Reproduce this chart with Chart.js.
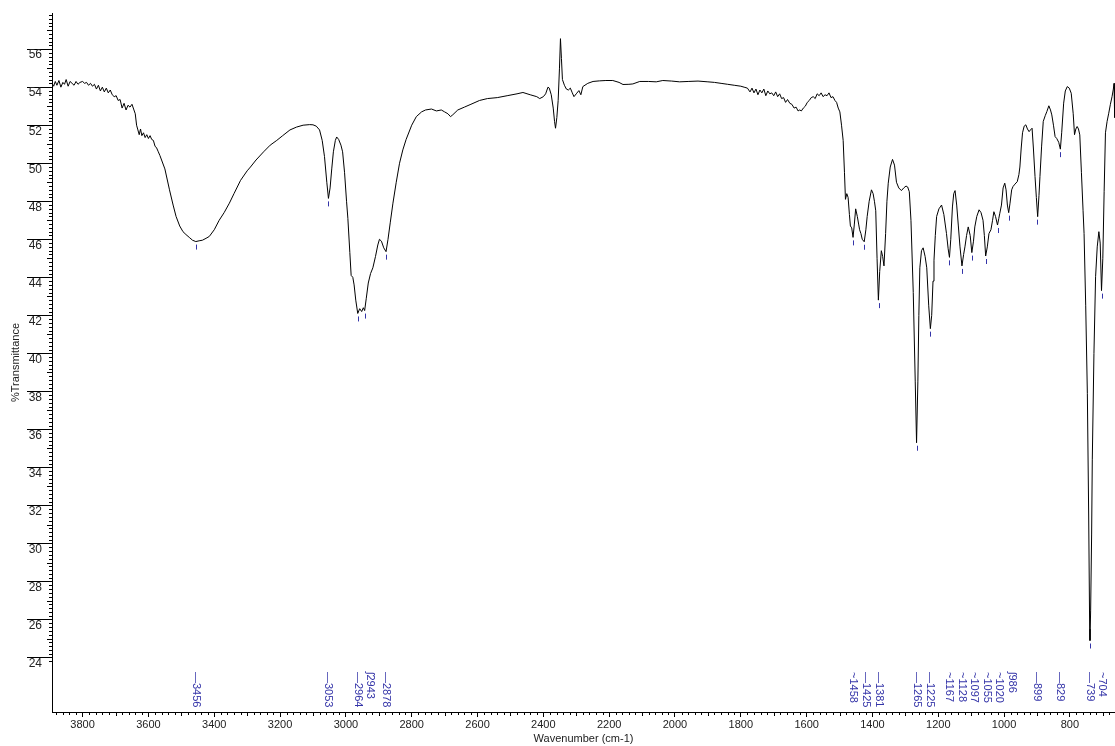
<!DOCTYPE html>
<html>
<head>
<meta charset="utf-8">
<script src="https://cdn.jsdelivr.net/npm/chart.js@4.4.1/dist/chart.umd.min.js"></script>
<style>
  html, body { margin: 0; padding: 0; background: #fff; }
  #c { display: block; }
</style>
</head>
<body>
<canvas id="c" width="1115" height="746"></canvas>
<script>
// ---- Spectrum data ----
const wavenumbers = [
  3893, 3888, 3883, 3878, 3872, 3866, 3860, 3855, 3850, 3844,
  3838, 3832, 3826, 3820, 3814, 3808, 3800, 3794, 3788, 3782,
  3776, 3770, 3764, 3758, 3752, 3746, 3740, 3734, 3728, 3722,
  3716, 3710, 3704, 3698, 3692, 3686, 3680, 3674, 3668, 3662,
  3656, 3650, 3645, 3640, 3636, 3632, 3628, 3624, 3620, 3615,
  3610, 3605, 3600, 3595, 3590, 3585, 3580, 3575, 3570, 3565,
  3550, 3536, 3525, 3516, 3505, 3495, 3486, 3476, 3466, 3456,
  3446, 3436, 3425, 3415, 3400, 3385, 3370, 3354, 3340, 3320,
  3300, 3290, 3273, 3250, 3230, 3210, 3192, 3170, 3150, 3130,
  3110, 3100, 3090, 3080, 3072, 3065, 3058, 3053, 3048, 3043,
  3038, 3032, 3028, 3022, 3015, 3010, 3004, 2998, 2994, 2988,
  2984, 2979, 2975, 2970, 2964, 2958, 2952, 2947, 2943, 2938,
  2932, 2925, 2918, 2910, 2903, 2898, 2892, 2885, 2878, 2872,
  2865, 2857, 2847, 2837, 2827, 2817, 2800, 2786, 2770, 2758,
  2740, 2725, 2710, 2700, 2690, 2682, 2675, 2660, 2640, 2620,
  2594, 2570, 2540, 2510, 2480, 2462, 2440, 2420, 2411, 2400,
  2393, 2386, 2382, 2376, 2370, 2366, 2363, 2359, 2355, 2351,
  2348, 2345, 2342, 2336, 2330, 2324, 2318, 2312, 2307, 2300,
  2292, 2286, 2280, 2265, 2249, 2230, 2210, 2189, 2170, 2158,
  2140, 2128, 2107, 2080, 2057, 2037, 2010, 1986, 1960, 1930,
  1900, 1880, 1860, 1840, 1820, 1800, 1790, 1780, 1772, 1766,
  1760, 1754, 1748, 1742, 1736, 1730, 1724, 1718, 1712, 1706,
  1700, 1694, 1688, 1682, 1676, 1670, 1664, 1658, 1651, 1645,
  1638, 1632, 1626, 1621, 1616, 1610, 1604, 1598, 1592, 1586,
  1580, 1574, 1568, 1562, 1556, 1550, 1544, 1538, 1532, 1526,
  1520, 1514, 1509, 1504, 1499, 1494, 1489, 1485, 1482, 1478,
  1474, 1470, 1467, 1463, 1459, 1455, 1451, 1446, 1442, 1439,
  1435, 1431, 1425, 1420, 1416, 1410, 1403, 1398, 1394, 1390,
  1386, 1382, 1378, 1373, 1369, 1365, 1360, 1356, 1352, 1346,
  1339, 1333, 1327, 1320, 1312, 1305, 1298, 1293, 1288, 1283,
  1276, 1270, 1266, 1262, 1259, 1256, 1251, 1246, 1240, 1235,
  1229, 1224, 1220, 1216, 1213, 1209, 1205, 1198, 1190, 1183,
  1175, 1170, 1166, 1162, 1157, 1153, 1149, 1144, 1139, 1134,
  1128, 1123, 1119, 1114, 1109, 1103, 1098, 1093, 1089, 1083,
  1076, 1070, 1064, 1060, 1056, 1051, 1046, 1040, 1035, 1031,
  1026, 1020, 1016, 1013, 1008, 1003, 998, 994, 990, 986,
  982, 977, 973, 967, 960, 955, 952, 948, 944, 939,
  934, 929, 924, 920, 915, 911, 906, 902, 898, 894,
  891, 886, 881, 875, 870, 864, 859, 855, 850, 845,
  840, 834, 829, 825, 819, 814, 808, 802, 796, 790,
  786, 782, 778, 774, 770, 765, 760, 757, 752, 747,
  743, 740, 739, 737, 734, 732, 727, 722, 717, 712,
  708, 704, 700, 696, 692, 687, 682, 677, 672, 668,
  666, 664
];
const transmittance = [
  54.20, 54.05, 54.30, 54.10, 54.35, 54.00, 54.25, 54.15, 54.40, 54.05,
  54.30, 54.20, 54.10, 54.30, 54.15, 54.25, 54.30, 54.20, 54.25, 54.10,
  54.20, 54.05, 54.15, 53.90, 54.10, 53.80, 54.00, 53.75, 53.95, 53.70,
  53.85, 53.60, 53.50, 53.55, 53.30, 53.35, 52.90, 53.15, 52.80, 53.05,
  52.95, 53.10, 52.85, 52.60, 52.00, 51.75, 51.50, 51.80, 51.45, 51.60,
  51.35, 51.50, 51.30, 51.45, 51.25, 51.20, 50.90, 50.80, 50.60, 50.40,
  49.70, 48.60, 47.80, 47.20, 46.70, 46.40, 46.25, 46.10, 45.95, 45.88,
  45.92, 45.95, 46.05, 46.15, 46.50, 47.00, 47.40, 47.90, 48.40, 49.10,
  49.60, 49.80, 50.17, 50.60, 50.95, 51.20, 51.45, 51.75, 51.90, 52.00,
  52.03, 52.02, 51.95, 51.75, 51.20, 50.35, 49.00, 48.15, 48.70, 49.70,
  50.60, 51.20, 51.38, 51.25, 50.95, 50.60, 49.50, 48.00, 47.10, 45.30,
  44.10, 44.00, 43.60, 42.80, 42.10, 42.35, 42.20, 42.40, 42.25, 42.90,
  43.70, 44.20, 44.50, 45.10, 45.70, 46.00, 45.90, 45.55, 45.35, 46.00,
  46.90, 47.90, 49.00, 50.00, 50.70, 51.25, 52.00, 52.45, 52.70, 52.80,
  52.85, 52.75, 52.80, 52.70, 52.60, 52.45, 52.55, 52.80, 52.95, 53.10,
  53.30, 53.40, 53.45, 53.55, 53.65, 53.72, 53.60, 53.50, 53.40, 53.50,
  53.65, 54.00, 53.95, 53.60, 52.90, 52.20, 51.84, 52.40, 53.30, 55.00,
  56.55, 55.50, 54.40, 54.10, 53.90, 53.85, 53.95, 53.70, 53.50, 53.65,
  53.82, 53.60, 54.03, 54.20, 54.30, 54.33, 54.35, 54.35, 54.25, 54.14,
  54.15, 54.17, 54.30, 54.30, 54.28, 54.35, 54.32, 54.28, 54.30, 54.32,
  54.28, 54.25, 54.20, 54.15, 54.10, 54.05, 54.00, 53.95, 53.75, 53.95,
  53.70, 53.90, 53.60, 53.85, 53.70, 53.90, 53.55, 53.80, 53.65, 53.70,
  53.55, 53.75, 53.50, 53.65, 53.40, 53.45, 53.20, 53.35, 53.15, 53.10,
  52.90, 52.95, 52.75, 52.80, 52.75, 52.90, 53.00, 53.20, 53.30, 53.45,
  53.50, 53.40, 53.65, 53.55, 53.70, 53.50, 53.60, 53.55, 53.70, 53.45,
  53.50, 53.30, 53.20, 52.90, 52.70, 52.00, 51.20, 49.50, 48.10, 48.40,
  48.20, 47.30, 46.70, 46.60, 46.10, 46.80, 47.60, 47.20, 46.80, 46.50,
  46.30, 46.00, 45.87, 46.50, 47.20, 48.00, 48.60, 48.40, 48.00, 47.50,
  45.00, 42.80, 44.30, 45.40, 45.10, 44.60, 46.30, 48.00, 48.95, 49.80,
  50.20, 49.90, 49.00, 48.70, 48.56, 48.70, 48.80, 48.75, 48.50, 47.00,
  43.20, 38.50, 35.30, 38.50, 42.00, 44.50, 45.40, 45.55, 45.10, 44.50,
  42.50, 41.30, 42.00, 43.80, 44.90, 46.20, 47.20, 47.60, 47.80, 47.30,
  46.30, 45.50, 45.05, 46.00, 47.70, 48.40, 48.56, 47.80, 46.70, 45.60,
  44.60, 45.20, 45.60, 46.20, 46.65, 46.20, 45.30, 45.90, 46.65, 47.20,
  47.55, 47.40, 47.00, 46.20, 45.12, 45.60, 46.30, 46.50, 47.00, 47.45,
  47.20, 46.75, 47.10, 47.37, 47.80, 48.70, 48.95, 48.60, 47.80, 47.40,
  47.90, 48.60, 48.77, 48.90, 49.03, 49.40, 49.80, 50.80, 51.60, 51.95,
  52.02, 51.80, 51.66, 51.75, 51.84, 50.80, 49.30, 48.20, 47.19, 48.30,
  49.30, 50.90, 52.20, 52.50, 52.72, 53.02, 52.80, 52.54, 52.00, 51.40,
  51.30, 51.10, 50.74, 51.60, 53.16, 53.80, 54.03, 53.95, 53.68, 52.60,
  51.50, 51.80, 51.93, 51.80, 51.49, 49.50, 47.50, 46.30, 42.50, 37.90,
  31.50, 25.50, 24.90, 26.50, 30.50, 34.40, 40.00, 44.03, 45.60, 46.40,
  45.80, 43.30, 45.00, 48.50, 51.60, 52.20, 52.63, 53.10, 53.50, 53.90,
  54.20, 52.40
];

// ---- Peak annotations ----
const peakWavenumbers = [3456, 3053, 2964, 2943, 2878, 1458, 1425, 1381, 1265, 1225,
                         1167, 1128, 1097, 1055, 1020, 986, 899, 829, 739, 704];
const peakTransmittance = [45.88, 48.15, 42.10, 42.25, 45.35, 46.10, 45.87, 42.80, 35.30, 41.30,
                           45.05, 44.60, 45.30, 45.12, 46.75, 47.40, 47.19, 50.74, 24.90, 43.30];
const peakLeaders = ['—', '—', '—', 'ʃ', '—', '~', '—', '—', '—', '—',
                     '~', '~', '~', '~', '~', 'ʃ', '—', '—', '—', '~'];

// ---- Axis settings ----
const xRange = [663, 3893];
const yRange = [21.14, 57.9];
const xMajorStep = 200;
const xMinorStep = 20;
const yMajorStep = 2;
const yTickLabelRange = [24, 56];
const xTitle = 'Wavenumber (cm-1)';
const yTitle = '%Transmittance';

const FONT = 'Liberation Sans, Arial, Helvetica, sans-serif';
const points = wavenumbers.map((w, i) => ({ x: w, y: transmittance[i] }));
const isMultiple = (v, step) => Math.abs(v / step - Math.round(v / step)) < 1e-6;

const overlay = {
  id: 'overlay',
  afterDraw(chart) {
    const { ctx, chartArea, scales } = chart;
    const x = scales.x, y = scales.y;
    ctx.save();
    ctx.strokeStyle = '#000';
    ctx.lineWidth = 1;
    ctx.beginPath();
    // y minor ticks every 0.2
    for (let i = 119; i <= 289; i++) {
      if (i % 10 === 0) continue;
      const v = i / 5;
      const len = (i % 5 === 0) ? 5 : 3;
      const py = Math.round(y.getPixelForValue(v)) + 0.5;
      ctx.moveTo(chartArea.left - len, py);
      ctx.lineTo(chartArea.left, py);
    }
    // x minor ticks every 20
    for (let v = 680; v <= 3880; v += xMinorStep) {
      if (v % xMajorStep === 0) continue;
      const len = (v % 100 === 0) ? 4 : 3;
      const px = Math.round(x.getPixelForValue(v)) + 0.5;
      ctx.moveTo(px, chartArea.bottom);
      ctx.lineTo(px, chartArea.bottom + len);
    }
    ctx.stroke();

    // peak marks
    ctx.strokeStyle = '#3434a8';
    ctx.fillStyle = '#3434a8';
    ctx.beginPath();
    peakWavenumbers.forEach((w, i) => {
      const px = Math.round(x.getPixelForValue(w)) + 0.5;
      const py = y.getPixelForValue(peakTransmittance[i]);
      ctx.moveTo(px, py + 3);
      ctx.lineTo(px, py + 8);
    });
    ctx.stroke();

    // peak labels, spread apart so they do not overlap
    const order = peakWavenumbers.map((w, i) => i)
      .sort((a, b) => x.getPixelForValue(peakWavenumbers[a]) - x.getPixelForValue(peakWavenumbers[b]));
    const labelX = [];
    let prev = -Infinity;
    order.forEach(i => {
      let px = x.getPixelForValue(peakWavenumbers[i]);
      if (px < prev + 12.5) px = prev + 12.5;
      labelX[i] = px;
      prev = px;
    });
    ctx.font = '11px ' + FONT;
    ctx.textAlign = 'left';
    ctx.textBaseline = 'middle';
    peakWavenumbers.forEach((w, i) => {
      ctx.save();
      ctx.translate(labelX[i], 672);
      ctx.rotate(Math.PI / 2);
      ctx.fillText(peakLeaders[i] + String(w), 0, 0);
      ctx.restore();
    });
    ctx.restore();
  }
};

new Chart(document.getElementById('c'), {
  type: 'scatter',
  data: {
    datasets: [{
      data: points,
      showLine: true,
      borderColor: '#000',
      borderWidth: 1,
      pointRadius: 0,
      pointHoverRadius: 0,
      tension: 0,
      fill: false
    }]
  },
  options: {
    responsive: false,
    maintainAspectRatio: false,
    animation: false,
    devicePixelRatio: 1,
    layout: { padding: { top: 13, left: 0, right: 0, bottom: 0 } },
    plugins: { legend: { display: false }, tooltip: { enabled: false } },
    scales: {
      x: {
        type: 'linear',
        position: 'bottom',
        reverse: true,
        min: xRange[0],
        max: xRange[1],
        afterFit: s => { s.height = 34; },
        afterBuildTicks: s => {
          s.ticks = s.ticks.filter(t => isMultiple(t.value, xMajorStep));
        },
        ticks: {
          stepSize: xMinorStep, includeBounds: false, autoSkip: false, maxRotation: 0, minRotation: 0,
          padding: 1, color: '#222', font: { family: FONT, size: 11 },
          callback: v => String(v)
        },
        grid: { drawOnChartArea: false, drawTicks: true, tickLength: 5, color: '#000', lineWidth: 1 },
        border: { display: true, color: '#000', width: 1 },
        title: { display: true, text: xTitle, color: '#222', font: { family: FONT, size: 11 }, padding: { top: 0, bottom: 0 } }
      },
      y: {
        type: 'linear',
        position: 'left',
        min: yRange[0],
        max: yRange[1],
        afterFit: s => { s.width = 52; },
        afterBuildTicks: s => {
          s.ticks = s.ticks.filter(t => t.value >= yTickLabelRange[0] - 1e-6 && t.value <= yTickLabelRange[1] + 1e-6 &&
            isMultiple(t.value, yMajorStep));
        },
        ticks: {
          stepSize: yMajorStep, includeBounds: false, autoSkip: false,
          padding: -15, labelOffset: 6, color: '#222', font: { family: FONT, size: 12 },
          callback: v => String(v)
        },
        grid: { drawOnChartArea: false, drawTicks: true, tickLength: 25, color: '#000', lineWidth: 1 },
        border: { display: true, color: '#000', width: 1 },
        title: { display: true, text: yTitle, color: '#222', font: { family: FONT, size: 11 }, padding: { top: 9, bottom: 0 } }
      }
    }
  },
  plugins: [overlay]
});
</script>
</body>
</html>
